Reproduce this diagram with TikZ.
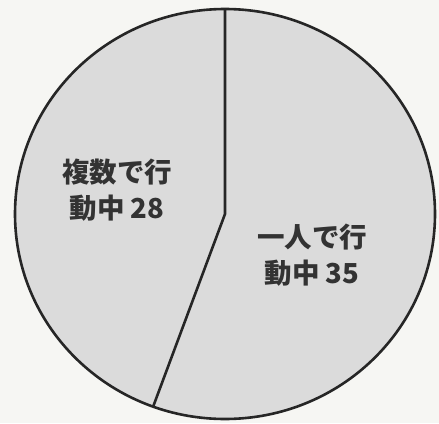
\documentclass[tikz,border=0pt]{standalone}
\usepackage{fontspec}
\newfontfamily\jpfont{Noto Sans CJK JP}
\definecolor{paper}{RGB}{246,246,243}

\begin{document}
\begin{tikzpicture}[x=1pt, y=-1pt,
	piepart/.style = { fill=black!14, draw=black!85, line width=2.6pt },
	divider/.style = { draw=black!85, line width=2.6pt, line join=round },
	slicelabel/.style = { font=\jpfont\bfseries\fontsize{27.5}{36}\selectfont,
			text=black!80, align=center }]

  \fill[paper] (0,0) rectangle (439,423);
  \useasboundingbox (0,0) rectangle (439,423);

  \coordinate (mid) at (225,214);
  \coordinate (top) at (225,9);
  \coordinate (cut) at (153,407);
  \draw[piepart] (mid) ellipse[x radius=210, y radius=205];
  \draw[divider] (top) -- (mid) -- (cut);

  \node[name=many, slicelabel] at (117,190) {複数で行\\動中 28};
  \node[name=alone, slicelabel] at (312,255) {一人で行\\動中 35};
\end{tikzpicture}
\end{document}
